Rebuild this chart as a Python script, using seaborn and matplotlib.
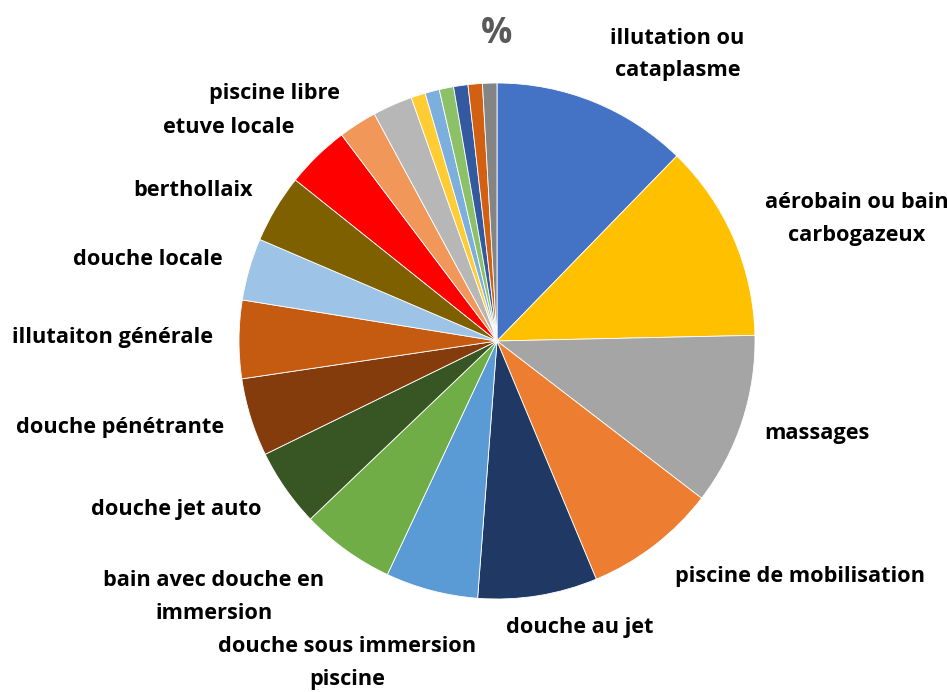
import numpy as np
import seaborn as sns
import matplotlib.pyplot as plt

# slices, clockwise from 12 o'clock
labels = ["illutation ou\ncataplasme", "aérobain ou bain\ncarbogazeux", "massages",
          "piscine de mobilisation", "douche au jet", "douche sous immersion\npiscine",
          "bain avec douche en\nimmersion", "douche jet auto", "douche pénétrante",
          "illutaiton générale", "douche locale", "berthollaix", "etuve locale",
          "piscine libre", "", "", "", "", "", "", ""]
values = [12.3, 12.4, 10.8, 8.3, 7.5, 5.8, 5.9, 4.9, 4.9, 4.9, 3.9, 4.3, 4.0,
          2.4, 2.5, 0.9, 0.9, 0.9, 0.9, 0.9, 0.9]
colors = ["#4472C4", "#FFC000", "#A5A5A5", "#ED7D31", "#1F3864", "#5B9BD5",
          "#70AD47", "#375623", "#843C0C", "#C55A11", "#9DC3E6", "#7F6000",
          "#FF0000", "#F1975A", "#B7B7B7", "#FFCD33", "#7CAFDD", "#8CC168",
          "#335AA1", "#D26012", "#848484"]

# label centres (pie radius = 1)
label_pos = [(0.70, 1.11), (1.395, 0.473), (1.24, -0.357), (1.174, -0.911),
             (0.322, -1.112), (-0.581, -1.248), (-1.097, -0.992), (-1.244, -0.655),
             (-1.461, -0.337), (-1.492, 0.012), (-1.353, 0.314), (-1.178, 0.585),
             (-1.039, 0.826), (-0.864, 0.961)]

sns.set_style("white")
plt.rcParams['font.family'] = ['Open Sans', 'DejaVu Sans']

fig = plt.figure(figsize=(9.47, 6.92), dpi=100)
ax = fig.add_axes([47 / 947, 10 / 692, 900 / 947, 682 / 692])

wedges, _ = ax.pie(values, colors=colors, startangle=90, counterclock=False,
                   radius=1, wedgeprops=dict(edgecolor="white", linewidth=0.6))

for lab, (x, y) in zip(labels, label_pos):
    ax.text(x, y, lab, ha="center", va="center", fontsize=15.7,
            fontweight="bold", color="black", linespacing=1.7)

ax.text(0, 1.19, "%", ha="center", va="center", fontsize=25,
        fontweight="bold", color="#595959")

ax.set_xlim(-450 / 258, 450 / 258)
ax.set_ylim(-341 / 258, 341 / 258)
ax.set_aspect("equal")
ax.axis("off")

fig.savefig("out.png", dpi=100)
